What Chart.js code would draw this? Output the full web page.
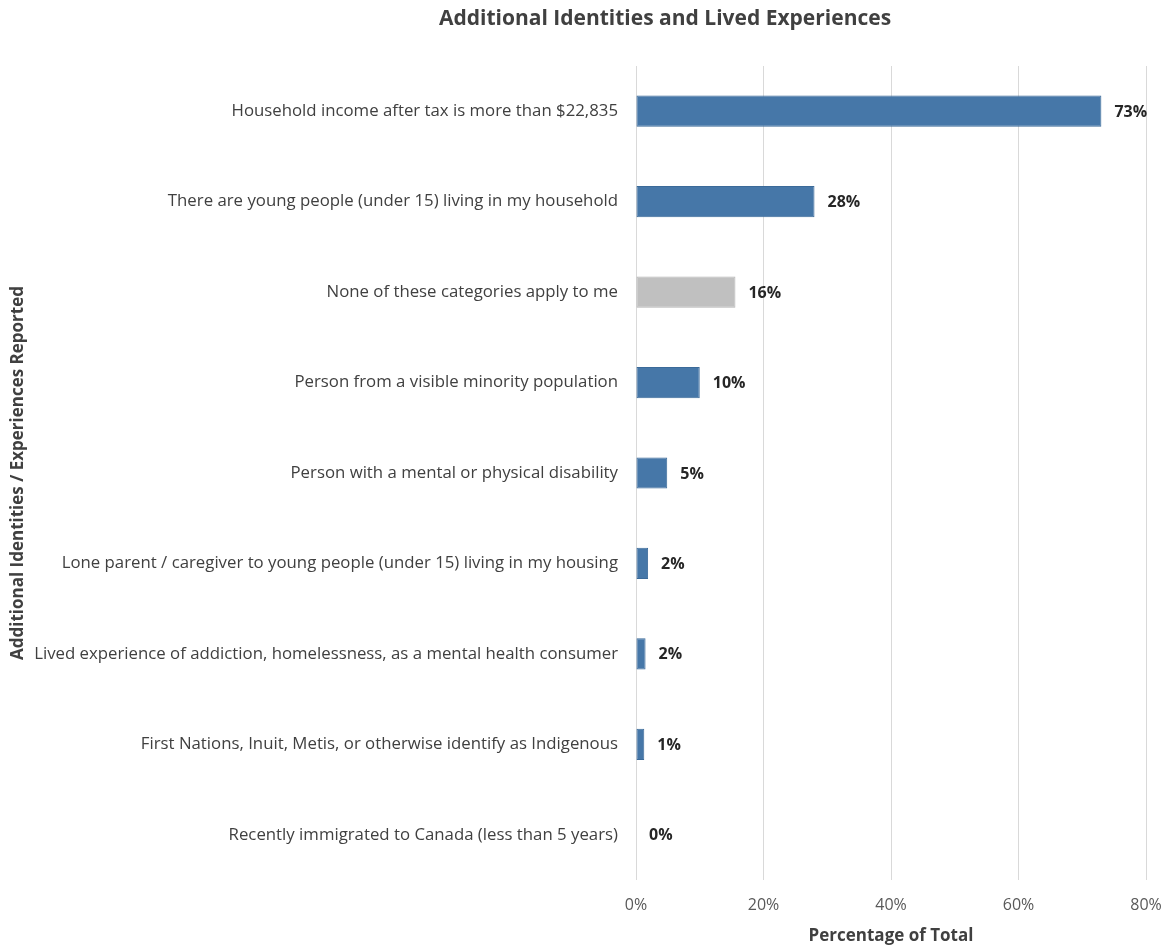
<!DOCTYPE html>
<html>
<head>
<meta charset="utf-8">
<title>Additional Identities and Lived Experiences</title>
<script src="https://cdn.jsdelivr.net/npm/chart.js@4/dist/chart.umd.min.js"></script>
<style>
  html, body { margin: 0; padding: 0; background: #fff; }
  #wrap { width: 1172px; height: 946px; }
</style>
</head>
<body>
<div id="wrap"><canvas id="chart"></canvas></div>
<script>
const categories = [
  'Household income after tax is more than $22,835',
  'There are young people (under 15) living in my household',
  'None of these categories apply to me',
  'Person from a visible minority population',
  'Person with a mental or physical disability',
  'Lone parent / caregiver to young people (under 15) living in my housing',
  'Lived experience of addiction, homelessness, as a mental health consumer',
  'First Nations, Inuit, Metis, or otherwise identify as Indigenous',
  'Recently immigrated to Canada (less than 5 years)'
];
const percentages = [73, 28, 15.6, 10, 4.9, 1.9, 1.5, 1.3, 0];
const xTicks = [0, 20, 40, 60, 80];
const chartTitle = 'Additional Identities and Lived Experiences';

const BLUE = '#4677a8';
const BLUE_EDGE = '#3b6a99';
const GREY = '#c0c0c0';
const GREY_EDGE = '#b4b4b4';
const FONT = '"Open Sans", Lato, sans-serif';

// percent labels just past the end of each bar, plus the heading
const barLabels = {
  id: 'barLabels',
  afterDatasetsDraw(chart) {
    const ctx = chart.ctx;
    const meta = chart.getDatasetMeta(0);
    ctx.save();
    ctx.font = 'bold 16px ' + FONT;
    ctx.fillStyle = '#262626';
    ctx.textAlign = 'left';
    ctx.textBaseline = 'middle';
    meta.data.forEach((bar, i) => {
      ctx.fillText(Math.round(percentages[i]) + '%', bar.x + 13, bar.y + 1);
    });
    ctx.font = 'bold 21px ' + FONT;
    ctx.fillStyle = '#404040';
    ctx.textAlign = 'center';
    ctx.fillText(chartTitle, 665, 19);
    ctx.restore();
  }
};

new Chart(document.getElementById('chart'), {
  type: 'bar',
  data: {
    labels: categories,
    datasets: [{
      data: percentages,
      backgroundColor: categories.map((c, i) => i === 2 ? GREY : BLUE),
      borderColor: categories.map((c, i) => i === 2 ? GREY_EDGE : BLUE_EDGE),
      borderWidth: 1,
      borderSkipped: false,
      barPercentage: 0.345,
      categoryPercentage: 1
    }]
  },
  options: {
    indexAxis: 'y',
    responsive: true,
    maintainAspectRatio: false,
    animation: false,
    layout: { padding: { left: 8, right: 26, top: 66, bottom: 0 } },
    plugins: {
      legend: { display: false },
      tooltip: { enabled: false },
      title: { display: false }
    },
    scales: {
      x: {
        min: 0,
        max: 80,
        afterBuildTicks(axis) { axis.ticks = xTicks.map(v => ({ value: v })); },
        afterFit(axis) {
          axis.height = 66;
          axis.paddingLeft = 0;
          axis.paddingRight = 0;
        },
        grid: { color: '#d9d9d9', lineWidth: 1, drawTicks: false },
        border: { display: false },
        ticks: {
          padding: 16,
          color: '#595959',
          font: { family: FONT, size: 16 },
          callback: v => v + '%'
        },
        title: {
          display: true,
          text: 'Percentage of Total',
          color: '#404040',
          font: { family: FONT, size: 17, weight: 'bold' },
          padding: { top: 0, bottom: 0 }
        }
      },
      y: {
        grid: { display: false, drawTicks: false },
        border: { display: false },
        afterFit(axis) { axis.width = 628; },
        ticks: {
          padding: 18,
          color: '#404040',
          font: { family: FONT, size: 16.8 },
          autoSkip: false
        },
        title: {
          display: true,
          text: 'Additional Identities / Experiences Reported',
          color: '#404040',
          font: { family: FONT, size: 17, weight: 'bold' },
          padding: { top: 0, bottom: 0 }
        }
      }
    }
  },
  plugins: [barLabels]
});
</script>
</body>
</html>
